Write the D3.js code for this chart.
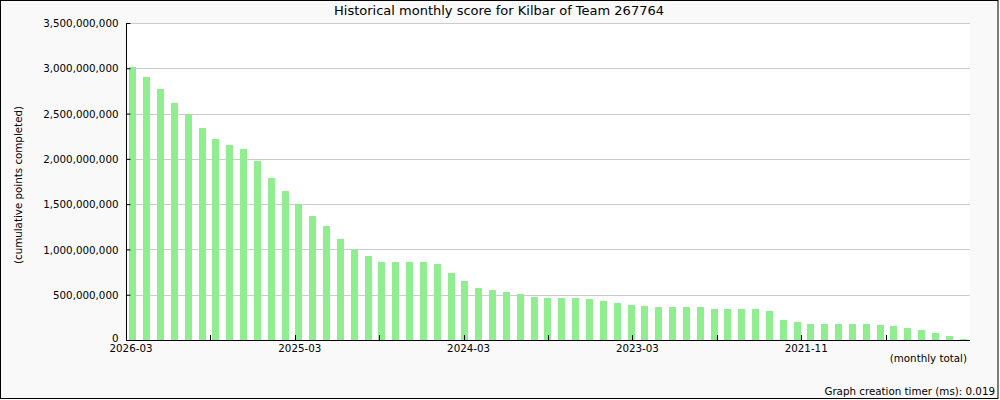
<!DOCTYPE html>
<html>
<head>
<meta charset="utf-8">
<script src="https://cdn.jsdelivr.net/npm/d3@7"></script>
<style>
html,body{margin:0;padding:0;background:#fff;}
svg{display:block;}
text{font-family:"DejaVu Sans",sans-serif;fill:#000;}
</style>
</head>
<body>
<svg id="chart" width="1000" height="400"></svg>
<script>
const title = "Historical monthly score for Kilbar of Team 267764";
const yTitle = "(cumulative points completed)";
const xTitle = "(monthly total)";
const footer = "Graph creation timer (ms): 0.019";

const months = [
  "2026-03","2026-02","2026-01","2025-12","2025-11","2025-10","2025-09","2025-08","2025-07","2025-06","2025-05","2025-04",
  "2025-03","2025-02","2025-01","2024-12","2024-11","2024-10","2024-09","2024-08","2024-07","2024-06","2024-05","2024-04",
  "2024-03","2024-02","2024-01","2023-12","2023-11","2023-10","2023-09","2023-08","2023-07","2023-06","2023-05","2023-04",
  "2023-03","2023-02","2023-01","2022-12","2022-11","2022-10","2022-09","2022-08","2022-03","2022-02","2022-01","2021-12",
  "2021-11","2021-10","2021-09","2021-08","2021-07","2021-06","2021-05","2021-04","2021-03","2021-02","2021-01","2020-12",
  "2020-11"
];

// cumulative points (billions)
const scoresB = [
  3.014, 2.904, 2.771, 2.617, 2.495, 2.341, 2.219, 2.153, 2.109, 1.976, 1.789, 1.645,
  1.502, 1.369, 1.259, 1.115, 1.001, 0.927, 0.861, 0.861, 0.861, 0.861, 0.839, 0.740,
  0.651, 0.574, 0.552, 0.530, 0.508, 0.475, 0.464, 0.464, 0.464, 0.453, 0.431, 0.409,
  0.386, 0.375, 0.364, 0.364, 0.364, 0.364, 0.342, 0.342, 0.342, 0.342, 0.320, 0.221,
  0.199, 0.177, 0.177, 0.177, 0.177, 0.177, 0.166, 0.155, 0.132, 0.110, 0.077, 0.044,
  0.011
];
const scores = scoresB.map(v => v * 1e9);

const yTicks = [0, 500000000, 1000000000, 1500000000, 2000000000, 2500000000, 3000000000, 3500000000];
const xLabelIdx = [0, 12, 24, 36, 48];
const xMinorIdx = [6, 18, 30, 42, 54];

const svg = d3.select("#chart");
const L = 126, R = 970, T = 23, B = 340;

svg.append("rect").attr("x",0.5).attr("y",0.5).attr("width",997.5).attr("height",398)
  .attr("fill","#f9f9f9").attr("stroke","#000").attr("stroke-width",1);

svg.append("rect").attr("x",L).attr("y",T).attr("width",R-L).attr("height",B-T).attr("fill","#fff");

const y = d3.scaleLinear().domain([0, 3500000000]).range([B, T]);
const x = d3.scaleBand().domain(d3.range(months.length)).range([L, R]).paddingInner(0).paddingOuter(0);

// gridlines
svg.append("g").selectAll("line").data(yTicks.filter(d => d > 0)).join("line")
  .attr("x1", L).attr("x2", R)
  .attr("y1", d => Math.round(y(d)) + 0.5).attr("y2", d => Math.round(y(d)) + 0.5)
  .attr("stroke", "#cccccc").attr("stroke-width", 1);

// bars
const bw = 7;
svg.append("g").selectAll("rect").data(scores).join("rect")
  .attr("x", (d,i) => Math.round(x(i) + x.bandwidth()/2 - bw/2))
  .attr("width", bw)
  .attr("y", d => y(d))
  .attr("height", d => B - y(d))
  .attr("fill", "#90ee90");

// y axis
const yAxis = d3.axisLeft(y).tickValues(yTicks).tickSize(-4).tickPadding(8)
  .tickFormat(d3.format(","));
const gy = svg.append("g").attr("transform", `translate(${L+0.5},0)`).call(yAxis);
gy.select(".domain").remove();
gy.selectAll(".tick line").attr("stroke","#000");
gy.selectAll(".tick text").attr("font-family","DejaVu Sans").attr("font-size","10.3px")
  .attr("dy", d => d === 0 ? "0.1em" : "0.35em");
svg.append("line").attr("x1",L+0.5).attr("x2",L+0.5).attr("y1",T).attr("y2",B).attr("stroke","#000");

// x axis
svg.append("line").attr("x1",L).attr("x2",R).attr("y1",B+0.5).attr("y2",B+0.5).attr("stroke","#000");
const tickIdx = xLabelIdx.concat(xMinorIdx);
svg.append("g").selectAll("line").data(tickIdx).join("line")
  .attr("x1", d => Math.round(L + d * (R-L)/60) + 0.5)
  .attr("x2", d => Math.round(L + d * (R-L)/60) + 0.5)
  .attr("y1", B - 5).attr("y2", B)
  .attr("stroke", "#000");
svg.append("g").selectAll("text").data(xLabelIdx).join("text")
  .attr("x", d => L + d * (R-L)/60 + 5)
  .attr("y", 352)
  .attr("text-anchor","middle")
  .attr("font-size","10.3px")
  .text(d => months[d]);

// titles
svg.append("text").attr("x", 499).attr("y", 15).attr("text-anchor","middle")
  .attr("font-size","13px").text(title);
svg.append("text").attr("transform","translate(22,185) rotate(-90)").attr("text-anchor","middle")
  .attr("font-size","10.3px").text(yTitle);
svg.append("text").attr("x", 967).attr("y", 362).attr("text-anchor","end")
  .attr("font-size","10.3px").text(xTitle);
svg.append("text").attr("x", 995).attr("y", 395).attr("text-anchor","end")
  .attr("font-size","10.3px").text(footer);
</script>
</body>
</html>
